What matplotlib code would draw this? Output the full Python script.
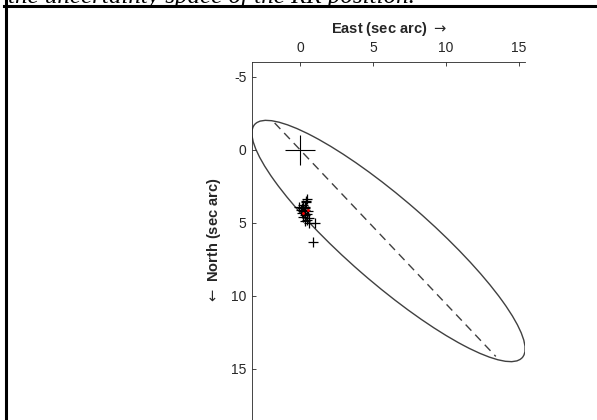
import numpy as np
import matplotlib
matplotlib.use("Agg")
from matplotlib import pyplot as plt
from matplotlib.patches import Ellipse
from matplotlib.lines import Line2D

W, H = 597, 420

# error ellipse: centre, full axes lengths, tilt (deg)
ell_center = (6.05, 6.25)
ell_width = 24.3
ell_height = 5.7
ell_angle = 41.0

# dashed line through the origin
line_x = [-1.75, 13.4]
line_y = [-1.83, 14.15]

# reference position
ref_x = [0.0]
ref_y = [0.0]

# measured positions
pts_x = [0.1, 0.2, 0.3, 0.25, 0.35, 0.15, 0.4, 0.3, 0.45, 0.2, 0.5, 0.4, 0.55, 0.05, 0.3, 0.6, 1.0, 0.85, 0.5, -0.05, 0.35, 0.6]
pts_y = [4.0, 3.8, 3.9, 4.2, 4.1, 4.3, 3.6, 4.5, 4.4, 4.6, 4.8, 3.5, 4.2, 4.1, 4.0, 5.0, 5.0, 6.3, 3.4, 3.95, 4.9, 4.7]
red_x = [0.2, 0.55]
red_y = [4.3, 4.1]

xticks = [0, 5, 10, 15]
yticks = [-5, 0, 5, 10, 15]

caption = "the uncertainty space of the RR position."

plt.rcParams["font.family"] = ["Liberation Sans", "DejaVu Sans"]
plt.rcParams["axes.unicode_minus"] = False

fig = plt.figure(figsize=(W / 100, H / 100), dpi=100)

# frame lines around the figure
fig.add_artist(Line2D([5.5 / W, 5.5 / W], [0, 1], color="black", lw=2.2))
fig.add_artist(Line2D([4 / W, 1], [1 - 6 / H, 1 - 6 / H], color="black", lw=2.2))
fig.text(8 / W, 1 - 2.5 / H, caption, family=["Liberation Serif", "DejaVu Serif"],
         style="italic", fontsize=18, ha="left", va="baseline")

ax = fig.add_axes([252 / W, 0, (525 - 252) / W, (420 - 62) / H])

ax.add_patch(Ellipse(ell_center, ell_width, ell_height, angle=ell_angle,
                     fill=False, edgecolor="#404040", lw=1.0))
ax.plot(line_x, line_y, color="#404040", lw=1.0, dashes=(6, 4))
ax.plot(ref_x, ref_y, "+", color="black", ms=22, mew=0.8)
ax.plot(pts_x, pts_y, "+", color="black", ms=7, mew=0.9, ls="none")
ax.plot(red_x, red_y, ".", color="red", ms=2, ls="none")

ax.set_xlim(-3.3, 15.4)
ax.set_ylim(18.5, -6.0)

ax.xaxis.tick_top()
ax.xaxis.set_label_position("top")
ax.set_xticks(xticks)
ax.set_yticks(yticks)
ax.tick_params(direction="in", length=3, width=0.6, colors="#262626", labelsize=10)
ax.tick_params(axis="x", pad=5)
ax.tick_params(axis="y", pad=4)

for side in ["right", "bottom"]:
    ax.spines[side].set_visible(False)
for side in ["left", "top"]:
    ax.spines[side].set_color("#262626")
    ax.spines[side].set_linewidth(0.6)

ax.set_xlabel(r"East (sec arc) $\rightarrow$", fontsize=10.5, fontweight="bold", color="#262626", labelpad=6)
ax.set_ylabel(r"$\leftarrow$ North (sec arc)", fontsize=10.5, fontweight="bold", color="#262626", labelpad=6)

fig.savefig("out.png", dpi=100)
